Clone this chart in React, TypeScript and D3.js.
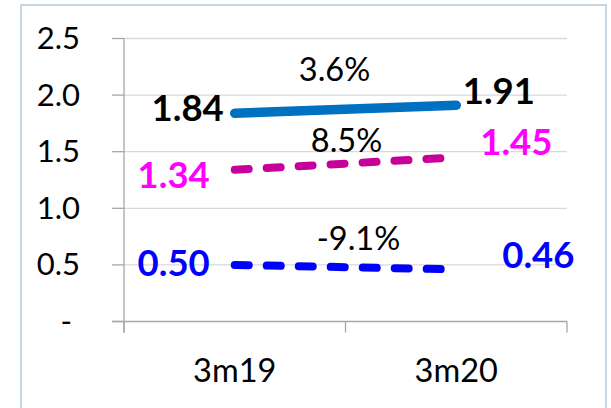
import React from "react";
import * as d3 from "d3";

const categories = ["3m19", "3m20"];
const seriesTop = [1.84, 1.91];
const seriesMid = [1.34, 1.45];
const seriesLow = [0.5, 0.46];
const growthLabels = ["3.6%", "8.5%", "-9.1%"];
const yTicks = [0, 0.5, 1.0, 1.5, 2.0, 2.5];

const W = 611;
const H = 408;
const FONT = "Lato, 'Open Sans', sans-serif";

type SeriesDef = {
  values: number[];
  stroke: string;
  labelColor: string;
  width: number;
  dash?: string;
  leftOff: [number, number];
  rightOff: [number, number];
  growthOff: [number, number];
};

export default function App() {
  const x = d3.scaleBand<string>().domain(categories).range([124, 567]);
  const y = d3.scaleLinear().domain([0, 2.5]).range([321.5, 38.5]);
  const cx = (c: string) => (x(c) as number) + x.bandwidth() / 2;

  const series: SeriesDef[] = [
    {
      values: seriesTop,
      stroke: "#0070C0",
      labelColor: "#000000",
      width: 9.5,
      leftOff: [-11, 7.5],
      rightOff: [6.5, -1],
      growthOff: [-11, -28.7],
    },
    {
      values: seriesMid,
      stroke: "#C8009A",
      labelColor: "#FF00FF",
      width: 8,
      dash: "14 18",
      leftOff: [-25, 18.5],
      rightOff: [24, -2.3],
      growthOff: [1, -12],
    },
    {
      values: seriesLow,
      stroke: "#0000FF",
      labelColor: "#0000FF",
      width: 8,
      dash: "14 18",
      leftOff: [-25, 11],
      rightOff: [46, -1],
      growthOff: [13, -17],
    },
  ];

  const line = d3
    .line<number>()
    .x((_, i) => cx(categories[i]))
    .y((v) => y(v));

  const fmt = (v: number) => (v === 0 ? "-" : d3.format(".1f")(v));
  const x0 = x.range()[0];
  const x1 = x.range()[1];

  return (
    <svg
      width={W}
      height={H}
      style={{ position: "absolute", left: 0, top: 0, background: "#fff" }}
      fontFamily={FONT}
    >
      <rect x={21} y={5} width={585} height={420} fill="#fff" stroke="#B9CDE5" strokeWidth={1.6} />
      {yTicks.map((t) => (
        <g key={t}>
          {t !== 0 && (
            <line x1={x0} x2={x1} y1={y(t)} y2={y(t)} stroke="#D9D9D9" strokeWidth={1.3} />
          )}
          <line x1={x0 - 12} x2={x0} y1={y(t)} y2={y(t)} stroke="#A6A6A6" strokeWidth={1.3} />
          <text
            x={t === 0 ? 72 : 80}
            y={y(t) + 10.5}
            textAnchor="end"
            fontSize={31}
            fill="#000"
          >
            {fmt(t)}
          </text>
        </g>
      ))}
      <line x1={x0} x2={x0} y1={y(2.5)} y2={y(0) + 11} stroke="#A6A6A6" strokeWidth={1.3} />
      <line x1={x0 - 12} x2={x1} y1={y(0)} y2={y(0)} stroke="#A6A6A6" strokeWidth={1.5} />
      {[x0, ...categories.map((c) => (x(c) as number) + x.bandwidth())].map((xx, i) => (
        <line key={i} x1={xx} x2={xx} y1={y(0)} y2={y(0) + 11} stroke="#A6A6A6" strokeWidth={1.3} />
      ))}
      {categories.map((c) => (
        <text key={c} x={cx(c)} y={381.7} textAnchor="middle" fontSize={32.5} fill="#000">
          {c}
        </text>
      ))}
      {series.map((s, si) => {
        const lx = cx(categories[0]);
        const rx = cx(categories[1]);
        const midX = (lx + rx) / 2;
        const midY = y((s.values[0] + s.values[1]) / 2);
        return (
          <g key={si}>
            <path
              d={line(s.values) as string}
              fill="none"
              stroke={s.stroke}
              strokeWidth={s.width}
              strokeLinecap="round"
              strokeDasharray={s.dash}
            />
            <text
              x={lx + s.leftOff[0]}
              y={y(s.values[0]) + s.leftOff[1]}
              textAnchor="end"
              fontSize={36.5}
              fontWeight="bold"
              fill={s.labelColor}
            >
              {d3.format(".2f")(s.values[0])}
            </text>
            <text
              x={rx + s.rightOff[0]}
              y={y(s.values[1]) + s.rightOff[1]}
              textAnchor="start"
              fontSize={36.5}
              fontWeight="bold"
              fill={s.labelColor}
            >
              {d3.format(".2f")(s.values[1])}
            </text>
            <text
              x={midX + s.growthOff[0]}
              y={midY + s.growthOff[1]}
              textAnchor="middle"
              fontSize={32.5}
              fill="#000"
            >
              {growthLabels[si]}
            </text>
          </g>
        );
      })}
    </svg>
  );
}
